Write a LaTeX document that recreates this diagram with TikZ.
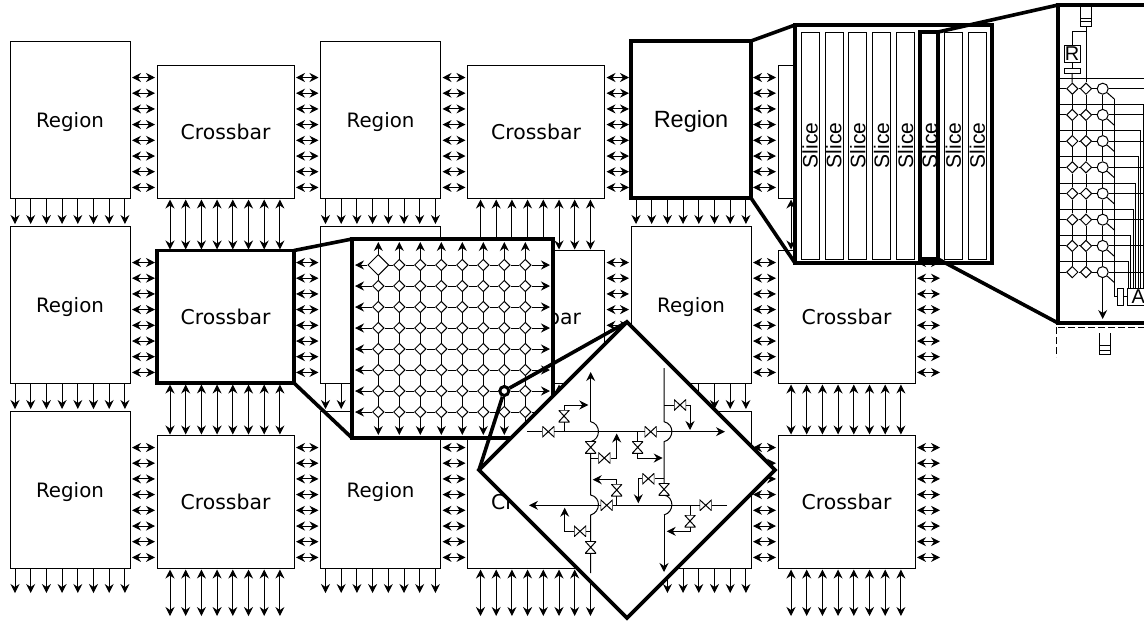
\documentclass[tikz,border=0pt]{standalone}
\usepackage{fontspec}
\setmainfont{DejaVu Sans}
\newfontfamily\helv{Liberation Sans}
\usetikzlibrary{shapes.geometric, arrows.meta, positioning, calc}
\begin{document}
\begin{tikzpicture}[
    x=1pt, y=-1pt,
    region/.style={draw, line width=0.8pt, fill=white, outer sep=0pt, anchor=north west, text depth=0pt,
                   minimum width=120pt, minimum height=157pt, font=\fontsize{19.8}{22}\selectfont},
    xbar/.style={draw, line width=0.8pt, fill=white, outer sep=0pt,
                 minimum width=137pt, minimum height=132.5pt, font=\fontsize{20.4}{22}\selectfont},
    hot/.style={line width=3.6pt},
    winbox/.style={draw, line width=3.6pt, fill=white, outer sep=0pt, anchor=north west},
    zoomline/.style={line width=3.6pt},
    slice/.style={draw, line width=0.8pt, outer sep=0pt, rotate=90, minimum width=227pt, minimum height=18pt,
                  inner sep=0pt, font=\helv\fontsize{21}{22}\selectfont},
    sw/.style={draw, diamond, line width=1pt, fill=white, minimum size=11.5pt, inner sep=0pt},
    rt/.style={draw, circle, line width=1pt, fill=white, minimum size=11pt, inner sep=0pt},
    valveh/.style={fill=white, inner sep=0pt, minimum width=12pt, minimum height=11pt,
                   path picture={\draw[line width=1pt] (path picture bounding box.north west) -- (path picture bounding box.south east)
                     -- (path picture bounding box.north east) -- (path picture bounding box.south west) -- cycle;}},
    valvev/.style={fill=white, inner sep=0pt, minimum width=11pt, minimum height=12pt,
                   path picture={\draw[line width=1pt] (path picture bounding box.north west) -- (path picture bounding box.north east)
                     -- (path picture bounding box.south west) -- (path picture bounding box.south east) -- cycle;}},
    lab/.style={draw, line width=0.8pt, fill=white, inner sep=0pt, outer sep=0pt, font=\helv\fontsize{20}{22}\selectfont},
    arrow/.style={-{Stealth[length=9pt,width=9pt,inset=3pt]}, line width=1pt},
    harrow/.style={{Stealth[length=9pt,width=9pt,inset=3pt]}-{Stealth[length=9pt,width=9pt,inset=3pt]},
                   line width=1pt, shorten <=2pt, shorten >=2pt},
    varrow/.style={{Stealth[length=9pt,width=9pt,inset=3pt]}-{Stealth[length=9pt,width=9pt,inset=3pt]},
                   line width=1pt, shorten <=1.5pt, shorten >=1pt},
    wire/.style={line width=1pt},
]
\useasboundingbox (0,0) rectangle (1144,622);
\clip (0,0) rectangle (1144,622);

\foreach \r/\c/\x/\y/\rl/\xl in {1/1/10/41/Region/Crossbar, 1/2/320.5/41/Region/Crossbar, 1/3/631/41//Crossbar,
    2/1/10/226/Region/, 2/2/320.5/226//Crossbar, 2/3/631/226/Region/Crossbar,
    3/1/10/411/Region/Crossbar, 3/2/320.5/411/Region/Crossbar, 3/3/631/411/Region/Crossbar} {
  \node[region] (reg\r\c) at (\x,\y) {\rl};
  \node[xbar, right=27pt of reg\r\c.south east, anchor=south west] (xb\r\c) {\xl};
}

\foreach \r in {1,2,3} {
  \foreach \i [evaluate=\i as \d using 12+15.7*\i] in {0,...,7} {
    \foreach \c/\n in {1/2,2/3} {
      \coordinate (q) at ([yshift=-\d pt]xb\r\c.north east);
      \draw[harrow] (q) -- (q -| reg\r\n.west);
    }
    \foreach \c in {1,2,3} {
      \coordinate (p) at ([yshift=-\d pt]xb\r\c.north west);
      \draw[harrow] (p) -- (p -| reg\r\c.east);
    }
    \coordinate (q) at ([yshift=-\d pt]xb\r3.north east);
    \draw[harrow] (q) -- ++(27,0);
  }
}

\foreach \c in {1,2,3} {
  \foreach \i [evaluate=\i as \d using 5+15.7*\i, evaluate=\i as \e using 13+15.7*\i] in {0,...,7} {
    \foreach \r/\n in {1/2,2/3} {
      \coordinate (p) at ([xshift=\d pt]reg\r\c.south west);
      \draw[arrow, shorten >=2pt] (p) -- (p |- reg\n\c.north);
      \coordinate (q) at ([xshift=\e pt]xb\r\c.south west);
      \draw[varrow] (q) -- (q |- xb\n\c.north);
    }
    \coordinate (p) at ([xshift=\d pt]reg3\c.south west);
    \draw[arrow] (p) -- ++(0,25);
    \coordinate (q) at ([xshift=\e pt]xb3\c.south west);
    \draw[varrow] (q) -- ++(0,49);
  }
}

\node[region, hot, text depth=2pt, font=\helv\fontsize{23.5}{26}\selectfont] (regHi) at (631,41) {Region};
\node[xbar, hot, right=27pt of reg21.south east, anchor=south west] (xbHi) {Crossbar};

\node[winbox, minimum width=201pt, minimum height=199pt] (win2) at (352,239) {};
\draw[zoomline] (xbHi.north east) -- (win2.north west);
\draw[zoomline] (xbHi.south east) -- (win2.south west);

\foreach \i in {1,...,8} {
  \foreach \j in {1,...,8} {
    \node[sw] (m-\i-\j) at ({357.3+21*\j},{244+21*\i}) {};
  }
}
\node[sw, minimum size=21pt] (m-1-1) at (378.3,265) {};
\foreach \i in {1,...,8} {
  \foreach \j [count=\k from 2] in {1,...,7} {
    \draw[wire] (m-\i-\j) -- (m-\i-\k);
    \draw[wire] (m-\j-\i) -- (m-\k-\i);
  }
  \draw[arrow, shorten >=3pt] (m-\i-1) -- (win2.west |- m-\i-1);
  \draw[arrow, shorten >=3pt] (m-\i-8) -- (win2.east |- m-\i-8);
  \draw[arrow, shorten >=3pt] (m-1-\i) -- (m-1-\i |- win2.north);
  \draw[arrow, shorten >=3pt] (m-8-\i) -- (m-8-\i |- win2.south);
}
\node[circle, draw, line width=3pt, fill=white, minimum size=9pt, inner sep=0pt] (mz) at (m-7-7) {};

\node[diamond, draw, line width=3.6pt, fill=white, minimum size=296pt, inner sep=0pt, outer sep=0pt] (win4) at (627,470) {};
\draw[zoomline] (mz) -- (win4.north);
\draw[zoomline] (mz) -- (win4.west);

\coordinate (vl1) at (590.7,421.7);
\coordinate (vl2) at (590.7,441.7);
\coordinate (vl3) at (590.7,495);
\coordinate (vl4) at (590.7,515);
\coordinate (vr1) at (664,421.7);
\coordinate (vr2) at (664,441.7);
\coordinate (vr3) at (664,495);
\coordinate (vr4) at (664,515);
\draw[arrow] (vl1) -- (590.7,372);
\draw[wire] (vl1) .. controls (601,424) and (601,439) .. (vl2) -- (vl3)
  .. controls (601,497) and (601,512) .. (vl4) -- (590.7,573);
\draw[wire] (664,368) -- (vr1) .. controls (674.5,424) and (674.5,439) .. (vr2) -- (vr3)
  .. controls (674.5,497) and (674.5,512) .. (vr4);
\draw[arrow] (vr4) -- (664,572);
\draw[arrow] (527,431.7) -- (725,431.7);
\draw[arrow] (727,505.3) -- (529,505.3);

\node[valveh] (v1) at (548.3,431.7) {};
\node[valvev] (v2) at (564,416) {};
\node[valvev] (v3) at (590.7,447.3) {};
\node[valveh] (v4) at (604.3,458) {};
\node[valveh] (v5) at (650.7,431.7) {};
\node[valvev] (v6) at (637.7,447.3) {};
\node[valveh] (v7) at (680,405) {};
\node[valveh] (v8) at (648.3,478.7) {};
\node[valvev] (v9) at (664,489.3) {};
\node[valvev] (v10) at (616.7,490) {};
\node[valveh] (v11) at (606.7,505.3) {};
\node[valveh] (v12) at (705.7,505.3) {};
\node[valvev] (v13) at (690,521) {};
\node[valveh] (v14) at (580,531.3) {};
\node[valvev] (v15) at (590.7,547.3) {};

\draw[wire] (v2 |- v1) -- (v2);
\draw[arrow] (v2) |- (588.3,405);
\draw[wire] (590.7,458) -- (v4);
\draw[arrow] (v4) -| (616.7,433.5);
\draw[wire] (v6 |- v5) -- (v6);
\draw[arrow] (v6) |- (662.7,458);
\draw[wire] (664,405) -- (v7);
\draw[arrow] (v7) -| (690,430);
\draw[wire] (664,478.7) -- (v8);
\draw[arrow] (v8) -| (638.3,503.3);
\draw[wire] (v10 |- v11) -- (v10);
\draw[arrow] (v10) |- (592.7,479.7);
\draw[wire] (v13 |- v12) -- (v13);
\draw[arrow] (v13) |- (666.7,531.3);
\draw[wire] (590.7,531.3) -- (v14);
\draw[arrow] (v14) -| (564.7,507.7);

\draw[zoomline] (regHi.north east) -- (795,25);
\draw[zoomline] (regHi.south east) -- (795,263);
\node[winbox, minimum width=197pt, minimum height=238pt] (win1) at (795,25) {};
\foreach \i in {0,...,7} {
  \node[slice] (sl\i) at ({810+23.9*\i},145.5) {Slice\hspace{9pt}};
}
\node[draw, line width=3.6pt, anchor=north west, outer sep=0pt, minimum width=18pt, minimum height=227pt] (slHi) at (920,32) {};

\draw[zoomline] (slHi.north east) -- (1058,5);
\draw[zoomline] (slHi.south east) -- (1058,323);
\node[winbox, minimum width=100pt, minimum height=318pt] (win3) at (1058,5) {};

\node[lab, minimum width=11pt, minimum height=20pt] (buf) at (1086,16) {};
\draw[wire] (1080.5,18.5) -- (1091.5,18.5);
\draw[wire] (1080.5,21.5) -- (1091.5,21.5);
\node[lab, minimum width=16pt, minimum height=17pt] (rlab) at (1072,53.5) {R};
\node[lab, minimum width=16pt, minimum height=5pt] (rb) at (1072,70.5) {};
\node[lab, minimum width=6pt, minimum height=16.7pt] (bbox) at (1120.3,296.7) {};
\node[lab, minimum width=22pt, minimum height=16.7pt] (abox) at (1138.3,296.7) {A};
\coordinate (tp) at (1086,31.7);
\draw[wire] (rlab.north) |- (tp);
\draw[wire] (rlab) -- (rb);
\draw[wire] (bbox) -- (abox);

\foreach \i [evaluate=\i as \y using 62.5+26.2*\i, evaluate=\i as \sx using 1128.3+2.45*(8-\i)] in {1,...,8} {
  \node[sw] (da-\i) at (1072.3,\y) {};
  \node[sw] (db-\i) at (1086,\y) {};
  \node[rt] (c-\i) at (1102.7,\y) {};
  \draw[wire] (win3.west |- da-\i) -- (da-\i);
  \draw[wire] (da-\i) -- (db-\i);
  \draw[wire] (db-\i) -- (c-\i);
  \draw[wire] (c-\i) -- (win3.east |- c-\i);
  \coordinate (st\i) at (\sx,\y-10.4);
  \draw[wire] (win3.west |- st\i) -- (st\i) -- (st\i |- abox.north);
  \coordinate (dg\i) at (1114.7,\y+10.7);
  \draw[wire] (c-\i) -- (dg\i);
}
\foreach \i [count=\k from 2] in {1,...,7} {
  \draw[wire] (da-\i) -- (da-\k);
  \draw[wire] (db-\i) -- (db-\k);
  \draw[wire] (c-\i) -- (c-\k);
}
\draw[wire] (buf) -- (db-1);
\draw[wire] (rb) -- (da-1);
\draw[wire] (dg1) |- (bbox);
\draw[arrow] (c-8) -- (1102.7,319);

\draw[wire, dash pattern=on 6.5pt off 3.5pt] (win3.west |- 0,327) -- (1146,327);
\draw[wire, dash pattern=on 6.5pt off 3.5pt] (1056.7,327) -- (1056.7,357);
\draw[wire] (1099.5,333) -- (1099.5,354) -- (1110.5,354) -- (1110.5,333);
\draw[wire] (1099.5,345.7) -- (1110.5,345.7);
\draw[wire] (1099.5,350) -- (1110.5,350);
\end{tikzpicture}
\end{document}
